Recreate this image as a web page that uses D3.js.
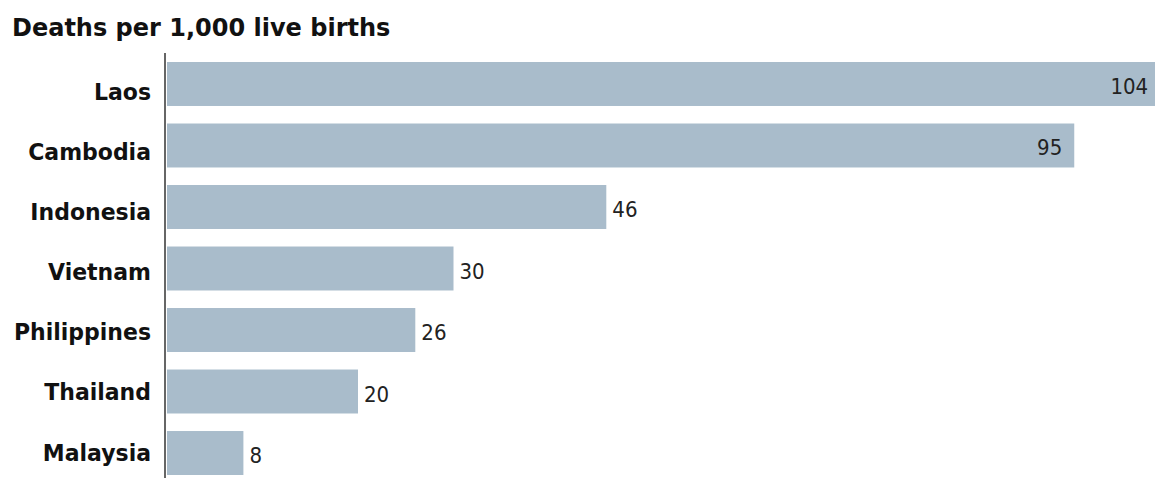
<!DOCTYPE html>
<html>
<head>
<meta charset="utf-8">
<script src="https://cdn.jsdelivr.net/npm/d3@7"></script>
<style>
  body { margin: 0; background: #fff; }
  svg { display: block; }
</style>
</head>
<body>
<svg width="1155" height="478"></svg>
<script>
// infant mortality, deaths per 1,000 live births
var countries = ["Laos", "Cambodia", "Indonesia", "Vietnam", "Philippines", "Thailand", "Malaysia"];
var deaths = [104, 95, 46, 30, 26, 20, 8];
var title = "Deaths per 1,000 live births";

var svg = d3.select("svg"),
    width = +svg.attr("width"),
    height = +svg.attr("height");

var data = countries.map(function(c, i) { return {name: c, value: deaths[i]}; });

var x0 = 167;
var x = d3.scaleLinear()
    .domain([0, 104])
    .range([x0, x0 + 104 * 9.55]);

var y = d3.scaleBand()
    .domain(countries)
    .range([62, 475])
    .paddingInner(0.285)
    .paddingOuter(0);

// the country names sit on a slightly tighter spacing than the bars
var yLabel = d3.scalePoint()
    .domain(countries)
    .range([91, 452]);

var font = "'DejaVu Sans', Verdana, sans-serif";

svg.append("text")
    .attr("x", 12)
    .attr("y", 36)
    .style("font", "bold 24px " + font)
    .style("fill", "#111")
    .text(title);

svg.selectAll(".bar")
    .data(data)
    .enter().append("rect")
    .attr("class", "bar")
    .attr("x", x(0))
    .attr("y", function(d) { return y(d.name); })
    .attr("width", function(d) { return x(d.value) - x(0); })
    .attr("height", y.bandwidth())
    .style("fill", "#a9bccb");

// axis line on the left
svg.append("line")
    .attr("x1", 165).attr("x2", 165)
    .attr("y1", 53).attr("y2", height)
    .style("stroke", "#666")
    .style("stroke-width", 2);

svg.selectAll(".cat")
    .data(data)
    .enter().append("text")
    .attr("class", "cat")
    .attr("transform", function(d) { return "translate(151," + (yLabel(d.name) + 8.5) + ") scale(1,1.08)"; })
    .style("text-anchor", "end")
    .style("font", "bold 22px " + font)
    .style("fill", "#111")
    .text(function(d) { return d.name; });

// big values go inside the bar, the rest just past the end
svg.selectAll(".val")
    .data(data)
    .enter().append("text")
    .attr("class", "val")
    .attr("transform", function(d) {
      var tx = d.value > 80 ? x(d.value) - 12 : x(d.value) + 6;
      return "translate(" + tx + "," + (y(d.name) + y.bandwidth() / 2 + 10) + ")";
    })
    .style("text-anchor", function(d) { return d.value > 80 ? "end" : "start"; })
    .style("font-family", "'DejaVu Sans Condensed', 'DejaVu Sans', sans-serif")
    .style("font-stretch", "condensed")
    .style("font-size", "22px")
    .style("fill", "#222")
    .text(function(d) { return d.value; });
</script>
</body>
</html>
